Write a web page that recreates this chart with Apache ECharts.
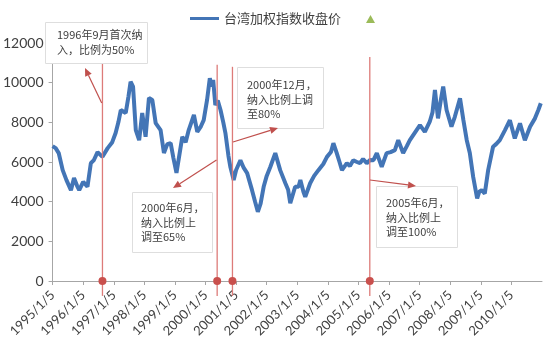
<!DOCTYPE html>
<html><head><meta charset="utf-8">
<script src="https://cdn.jsdelivr.net/npm/echarts@6/dist/echarts.min.js"></script>
<style>html,body{margin:0;padding:0;background:#fff}#c{width:554px;height:342px}</style>
</head><body><div id="c"></div>
<script>
const seriesName = '台湾加权指数收盘价';
const eventName = '纳入时点';
// x in fractional years, 1995.00 = 1995/1/5
const years = [1995.00,1995.10,1995.20,1995.33,1995.45,1995.60,1995.70,1995.80,1995.87,1996.00,1996.14,1996.25,1996.35,1996.47,1996.63,1996.80,1996.95,1997.06,1997.15,1997.23,1997.39,1997.48,1997.55,1997.63,1997.72,1997.83,1997.93,1998.04,1998.15,1998.26,1998.37,1998.53,1998.64,1998.75,1998.86,1998.95,1999.05,1999.24,1999.35,1999.45,1999.62,1999.73,1999.85,1999.94,2000.05,2000.14,2000.20,2000.25,2000.32,2000.40,2000.49,2000.58,2000.65,2000.75,2000.81,2000.92,2001.00,2001.14,2001.25,2001.36,2001.52,2001.62,2001.71,2001.80,2001.90,2002.00,2002.12,2002.28,2002.44,2002.61,2002.70,2002.77,2002.93,2003.04,2003.10,2003.20,2003.26,2003.42,2003.55,2003.69,2003.85,2003.97,2004.10,2004.18,2004.29,2004.38,2004.46,2004.62,2004.72,2004.83,2004.95,2005.05,2005.15,2005.27,2005.38,2005.49,2005.60,2005.76,2005.92,2006.05,2006.19,2006.30,2006.46,2006.58,2006.68,2006.90,2007.01,2007.06,2007.17,2007.33,2007.42,2007.50,2007.60,2007.70,2007.77,2007.88,2008.04,2008.15,2008.32,2008.43,2008.54,2008.64,2008.75,2008.88,2008.95,2009.03,2009.13,2009.24,2009.40,2009.50,2009.62,2009.79,2009.95,2010.11,2010.28,2010.44,2010.61,2010.77,2010.88,2010.96];
const closes = [6800,6700,6450,5590,5100,4580,5190,4800,4580,5000,4750,5940,6100,6500,6260,6700,7000,7460,8000,8620,8470,9300,10050,9800,7610,7100,8470,7270,9230,9130,7960,7610,6450,6900,6950,6200,5450,7270,7000,7610,8370,7520,7800,8110,9130,10220,9800,10140,8870,9100,8620,8000,7460,6300,5760,5090,5600,6090,5700,5440,4580,4000,3490,3900,4750,5300,5760,6450,5590,4930,4600,3920,4750,4750,5090,4500,4240,4930,5300,5590,5900,6260,6500,6950,6450,6000,5590,5940,5800,6090,6000,5940,6150,5940,6100,6090,6450,5760,6450,6500,6600,7100,6450,6800,7100,7610,7860,7960,7520,8030,8500,9630,8200,9200,9800,8620,7780,8280,9210,8110,7100,6450,5250,4160,4500,4580,4410,5590,6770,6900,7100,7610,8110,7190,7950,7100,7780,8200,8620,8960];
const tickYears = [1995,1996,1997,1998,1999,2000,2001,2002,2003,2004,2005,2006,2007,2008,2009,2010];
const tickLabels = ['1995/1/5','1996/1/5','1997/1/5','1998/1/5','1999/1/5','2000/1/5','2001/1/5','2002/1/5','2003/1/5','2004/1/5','2005/1/5','2006/1/5','2007/1/5','2008/1/5','2009/1/5','2010/1/5'];
const eventX = [1996.63, 2000.38, 2000.88, 2005.37];
const eventTop = [11000, 10900, 10800, 11300];
const eventBottom = [-750, -750, -750, -750];
const noteTexts = ['1996年9月首次纳\n入，比例为50%', '2000年6月，\n纳入比例上\n调至65%', '2000年12月，\n纳入比例上调\n至80%', '2005年6月，\n纳入比例上\n调至100%'];

const FONT = 'Lato, "Noto Sans CJK SC", sans-serif';
const CJK = '"Noto Sans CJK SC", sans-serif';

// annotation layout (pixels)
const boxes = [
  {x:45, y:22, w:102, h:41, tx:57, ty:28},
  {x:132, y:192, w:80, h:60, tx:141, ty:201},
  {x:237, y:67, w:86, h:61, tx:247, ty:78},
  {x:376, y:186, w:81, h:61, tx:386, ty:196}
];
const arrows = [
  [101.7,103,85,68],
  [216.5,160,173,188],
  [233,142,278,128],
  [370,180,416,186]
];
const graphics = [];
boxes.forEach((b,i)=>{
  graphics.push({type:'rect', z:100, shape:{x:b.x+0.5,y:b.y+0.5,width:b.w,height:b.h}, style:{fill:'#fff', stroke:'#dedede', lineWidth:1}});
  graphics.push({type:'text', z:101, x:b.tx, y:b.ty, style:{text:noteTexts[i], font:'11px '+CJK, fill:'#404040', lineHeight:14.3}});
});
arrows.forEach(a=>{
  const [x1,y1,x2,y2]=a;
  const ang=Math.atan2(y2-y1,x2-x1), L=8, W=3.6;
  const bx=x2-L*Math.cos(ang), by=y2-L*Math.sin(ang);
  const px=-Math.sin(ang), py=Math.cos(ang);
  graphics.push({type:'line', z:102, shape:{x1,y1,x2:bx,y2:by}, style:{stroke:'#c0504d', lineWidth:1.2}});
  graphics.push({type:'polygon', z:102, shape:{points:[[x2,y2],[bx+px*W,by+py*W],[bx-px*W,by-py*W]]}, style:{fill:'#c0504d'}});
});

const chart = echarts.init(document.getElementById('c'), null, {renderer:'canvas'});
chart.setOption({
  animation:false,
  backgroundColor:'#fff',
  textStyle:{fontFamily:FONT},
  grid:{left:52, right:12, top:43, bottom:61},
  legend:[
    {data:[seriesName], left:185, top:7, icon:'rect', itemWidth:29, itemHeight:3, itemGap:8, itemStyle:{color:'#4375b6'},
     textStyle:{fontSize:13, color:'#404040', fontFamily:CJK}},
    {data:[{name:eventName, icon:'triangle', itemStyle:{color:'#9bbb59'}}], left:361, top:10, itemWidth:9, itemHeight:8,
     formatter:()=>''}
  ],
  xAxis:{type:'value', min:1995, max:2011, interval:1,
    axisLine:{lineStyle:{color:'#a6a6a6'}},
    axisTick:{show:true, length:4, lineStyle:{color:'#a6a6a6'}},
    splitLine:{show:false},
    axisLabel:{rotate:45, margin:12, fontSize:13, color:'#404040', fontFamily:FONT, showMaxLabel:false,
      formatter:v=>{const i=tickYears.indexOf(Math.round(v)); return i>=0?tickLabels[i]:'';}}
  },
  yAxis:{type:'value', min:0, max:12000, interval:2000,
    axisLine:{show:true, lineStyle:{color:'#a6a6a6'}},
    axisTick:{show:true, length:4, lineStyle:{color:'#a6a6a6'}},
    splitLine:{show:false},
    axisLabel:{fontSize:14, color:'#404040', margin:9, fontFamily:FONT, formatter:v=>String(v)}
  },
  series:[
    {name:seriesName, type:'line', symbol:'none', data:years.map((y,i)=>[y,closes[i]]),
     lineStyle:{color:'#4375b6', width:4}, itemStyle:{color:'#4375b6'}, z:2},
    {name:eventName, type:'custom', z:5, clip:false, itemStyle:{color:'#c0504d'},
     data:eventX.map((x,i)=>[x,eventTop[i],eventBottom[i]]),
     renderItem:(params, api)=>{
       const x=api.value(0);
       const p1=api.coord([x,api.value(1)]), p2=api.coord([x,api.value(2)]), p0=api.coord([x,0]);
       return {type:'group', children:[
         {type:'line', shape:{x1:p1[0],y1:p1[1],x2:p2[0],y2:p2[1]}, style:{stroke:'#dd7b79', lineWidth:1.3}},
         {type:'circle', shape:{cx:p0[0],cy:p0[1],r:4}, style:{fill:'#c9504d'}}
       ]};
     }}
  ],
  graphic:graphics
});
</script></body></html>
